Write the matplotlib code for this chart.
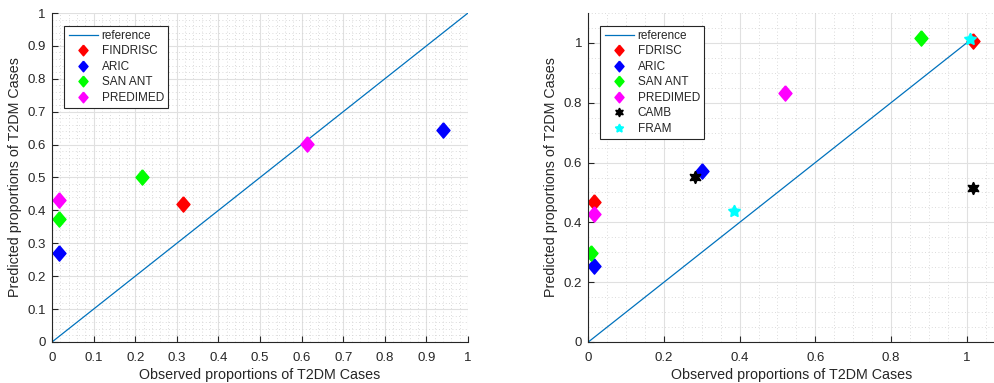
import matplotlib
matplotlib.use("Agg")
import matplotlib.pyplot as plt
import numpy as np
from matplotlib.ticker import MultipleLocator, FuncFormatter

plt.rcParams['font.family'] = ['Liberation Sans', 'DejaVu Sans']

# Left panel data
left_names = ["FINDRISC", "ARIC", "SAN ANT", "PREDIMED"]
left_colors = ["#ff0000", "#0000ff", "#00ff00", "#ff00ff"]
left_obs = [[0.316], [0.018, 0.941], [0.018, 0.216], [0.016, 0.613]]
left_pred = [[0.418], [0.269, 0.645], [0.374, 0.503], [0.431, 0.601]]
left_ref = [0, 1]

# Right panel data
right_names = ["FDRISC", "ARIC", "SAN ANT", "PREDIMED", "CAMB", "FRAM"]
right_colors = ["#ff0000", "#0000ff", "#00ff00", "#ff00ff", "#000000", "#00ffff"]
right_obs = [[0.015, 1.016], [0.015, 0.300], [0.006, 0.878], [0.015, 0.519],
             [0.282, 1.016], [0.386, 1.009]]
right_pred = [[0.469, 1.008], [0.253, 0.571], [0.296, 1.018], [0.427, 0.834],
              [0.552, 0.516], [0.439, 1.014]]
right_ref = [0, 1.01]

diamond = [(0, 1), (0.85, 0), (0, -1), (-0.85, 0), (0, 1)]
hexagram = (6, 1, 0)
pentagram = (5, 1, 0)
right_markers = [diamond, diamond, diamond, diamond, hexagram, pentagram]
right_msize = [11, 11, 11, 11, 9, 9]

fig = plt.figure(figsize=(9.95, 3.83), dpi=100)
axL = fig.add_axes([52/995, 41/383, 416/995, 329/383])
axR = fig.add_axes([588.3/995, 41/383, 406/995, 329/383])

REFC = "#0072BD"
AXC = "#262626"


def style(ax, major, minor, xlim, ylim, w):
    ax.set_xlim(*xlim)
    ax.set_ylim(*ylim)
    ax.xaxis.set_major_locator(MultipleLocator(major))
    ax.yaxis.set_major_locator(MultipleLocator(major))
    ax.xaxis.set_minor_locator(MultipleLocator(minor))
    ax.yaxis.set_minor_locator(MultipleLocator(minor))
    ax.grid(which='major', color='#e0e0e0', linewidth=0.8)
    ax.grid(which='minor', color='#cfcfcf', linewidth=0.6, linestyle=(0, (1, 3)))
    ax.set_axisbelow(True)
    for s in ['top', 'right']:
        ax.spines[s].set_visible(False)
    for s in ['left', 'bottom']:
        ax.spines[s].set_color(AXC)
        ax.spines[s].set_linewidth(0.8)
    ax.tick_params(which='both', direction='in', colors=AXC, labelsize=9.5,
                   top=False, right=False)
    ax.tick_params(axis='x', which='major', length=4, pad=7)
    ax.tick_params(axis='y', which='major', length=4, pad=4.5)
    ax.tick_params(which='minor', length=0)
    ax.set_xlabel("Observed proportions of T2DM Cases", fontsize=10.3, color=AXC,
                  va='top')
    ax.set_ylabel("Predicted proportions of T2DM Cases", fontsize=10.3, color=AXC,
                  va='bottom')
    ax.xaxis.set_label_coords(0.5, -26.5 / 329)
    ax.yaxis.set_label_coords(-30.0 / w, 0.5)
    ax.xaxis.set_major_formatter(FuncFormatter(lambda v, p: "%g" % round(v, 2)))
    ax.yaxis.set_major_formatter(FuncFormatter(lambda v, p: "%g" % round(v, 2)))


style(axL, 0.1, 0.02, (0, 1), (0, 1), 416)
axL.plot(left_ref, left_ref, color=REFC, linewidth=0.9, label="reference")
for n, c, xs, ys in zip(left_names, left_colors, left_obs, left_pred):
    axL.plot(xs, ys, linestyle='none', marker=diamond, markersize=11, color=c,
             markeredgecolor=c, label=n)

style(axR, 0.2, 0.05, (0, 1.073), (0, 1.1), 406)
axR.plot(right_ref, right_ref, color=REFC, linewidth=0.9, label="reference")
for n, c, m, ms, xs, ys in zip(right_names, right_colors, right_markers, right_msize,
                               right_obs, right_pred):
    axR.plot(xs, ys, linestyle='none', marker=m, markersize=ms, color=c,
             markeredgecolor=c, label=n)

for ax in (axL, axR):
    leg = ax.legend(loc='upper left', bbox_to_anchor=(0.03, 0.962), fontsize=8.5,
                    frameon=True, fancybox=False, edgecolor=AXC, framealpha=1,
                    borderpad=0.35, labelspacing=0.3, handlelength=2.5,
                    handletextpad=0.3, markerscale=0.7, borderaxespad=0)
    leg.get_frame().set_linewidth(0.8)
    for t in leg.get_texts():
        t.set_color(AXC)

fig.savefig("out.png", dpi=100)
